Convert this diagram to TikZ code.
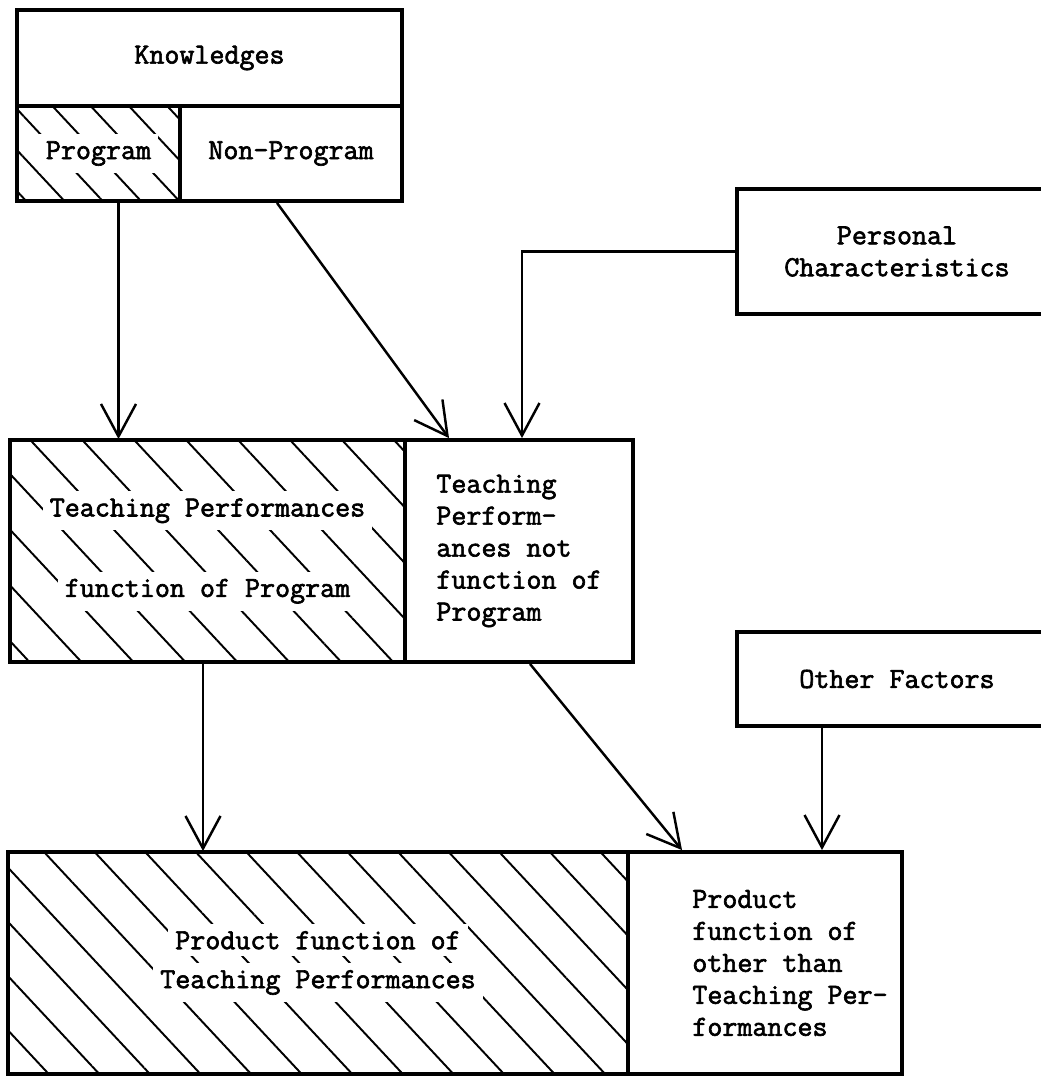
\documentclass[tikz,border=0pt]{standalone}
\usepackage{fontspec}
\newfontfamily\typewfont{Latin Modern Mono}[FakeBold=2.2]
\usetikzlibrary{arrows.meta,patterns.meta}
\setlength{\fboxsep}{4pt}
\newcommand{\whitebg}[1]{\colorbox{white}{#1}}

\begin{document}
\begin{tikzpicture}[x=0.02cm, y=-0.02cm,
	txt/.style={font=\typewfont\fontsize{16.6}{18.2}\selectfont},
	box/.style 2 args={draw=black, line width=2.2pt, minimum width=#1, minimum height=#2, inner sep=0pt, align=center, txt},
	hatch/.style={pattern={Lines[angle=-47, distance=#1, line width=1.1pt]}},
	conn/.style={line width=1.4pt, -{Straight Barb[length=0.65cm, width=0.7cm]}}]
	\useasboundingbox (0,0) rectangle (1041,1076);

	% knowledges
	\node[box={7.7cm}{1.92cm}] (know) at (209.5,58) {Knowledges};
	\node[box={3.26cm}{1.9cm}, hatch=0.56cm] (prog) at (98.5,153.5) {\whitebg{Program}};
	\node[box={4.44cm}{1.9cm}] (nonprog) at (291,153.5) {Non-Program};
	\node[box={6.4cm}{2.5cm}] (pers) at (897,251.5) {Personal\\Characteristics};

	% teaching performances
	\node[box={7.9cm}{4.44cm}, hatch=0.76cm] (tpp) at (207.5,551) {\whitebg{Teaching Performances}\\[0.8cm]\whitebg{function of Program}};
	\node[box={4.56cm}{4.44cm}, align=left] (tpn) at (519,551) {Teaching\\Perform-\\ances not\\function of\\Program};
	\node[box={6.4cm}{1.88cm}] (oth) at (897,679) {Other Factors};

	% products
	\node[box={12.4cm}{4.44cm}, hatch=0.74cm] (ppt) at (318,963) {\whitebg{Product function of}\\[0.1cm]\whitebg{Teaching Performances}};
	\node[box={5.48cm}{4.44cm}, label={[txt, align=left, xshift=0.5cm]center:{Product\\function of\\other than\\Teaching Per-\\formances}}] (pot) at (765,963) {};

	\draw[conn] ([xshift=0.4cm]prog.south) -- ([xshift=0.4cm]prog.south |- tpp.north);
	\draw[conn] ([xshift=-0.28cm]nonprog.south) -- ([xshift=-1.4cm]tpn.north);
	\draw[conn] (pers.west) -| ([xshift=0.06cm]tpn.north);
	\draw[conn] ([xshift=-0.09cm]tpp.south) -- ([xshift=-0.09cm]tpp.south |- ppt.north);
	\draw[conn] ([xshift=0.22cm]tpn.south) -- ([xshift=-1.66cm]pot.north);
	\draw[conn] ([xshift=-1.5cm]oth.south) -- ([xshift=-1.5cm]oth.south |- pot.north);
\end{tikzpicture}
\end{document}
